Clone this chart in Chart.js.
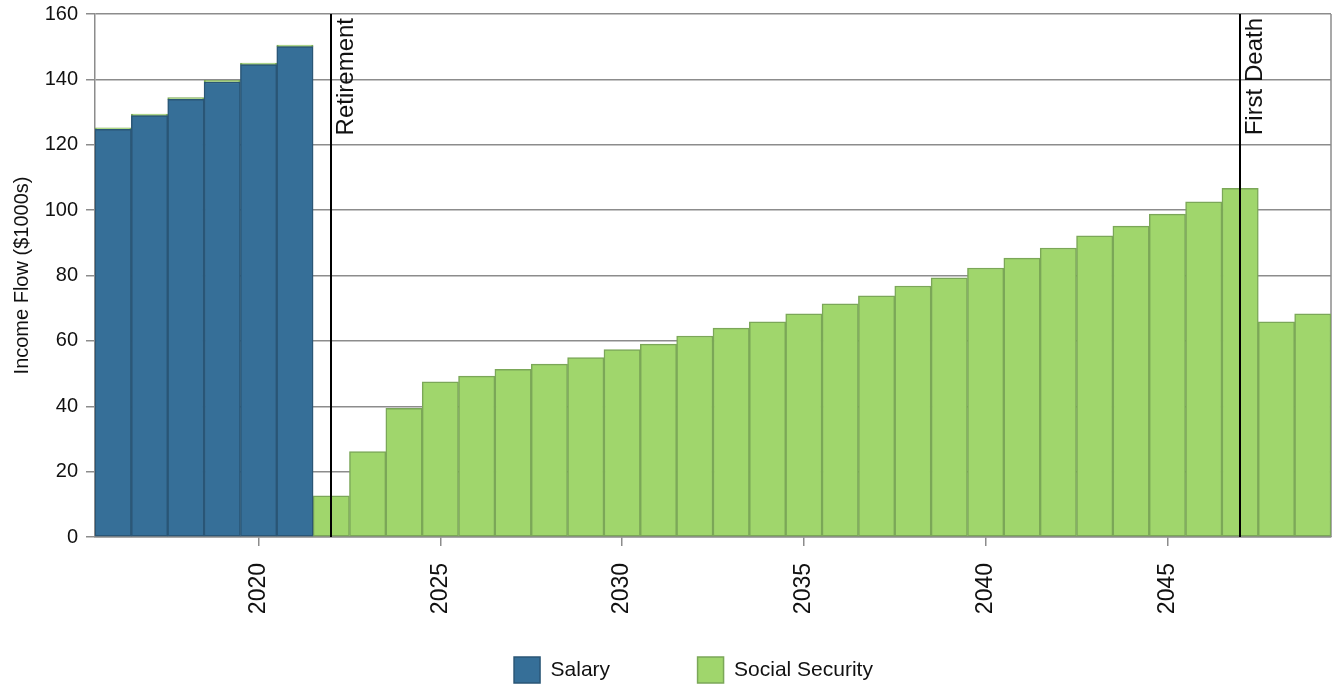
<!DOCTYPE html>
<html lang="en">
<head>
  <meta charset="UTF-8" />
  <title>Income Flow</title>
  <meta name="viewport" content="width=device-width, initial-scale=1" />

  <!-- Chart.js -->
  <script src="https://cdn.jsdelivr.net/npm/chart.js"></script>

  <style>
    html, body { margin: 0; padding: 0; background: #fff; }
    #wrap { width: 1333px; height: 685px; }
  </style>
</head>
<body>
  <div id="wrap"><canvas id="incomeChart"></canvas></div>

  <script>
    // yearly income, in $1000s
    const years = [
      2016, 2017, 2018, 2019, 2020, 2021, 2022, 2023, 2024, 2025, 2026, 2027,
      2028, 2029, 2030, 2031, 2032, 2033, 2034, 2035, 2036, 2037, 2038, 2039,
      2040, 2041, 2042, 2043, 2044, 2045, 2046, 2047, 2048, 2049
    ];
    const salary = [
      124.7, 128.9, 133.9, 139.2, 144.5, 150.0, null, null, null, null, null, null,
      null, null, null, null, null, null, null, null, null, null, null, null,
      null, null, null, null, null, null, null, null, null, null
    ];
    const socialSecurity = [
      0.5, 0.5, 0.5, 0.5, 0.5, 0.5, 12.6, 26.1, 39.4, 47.5, 49.2, 51.3,
      52.9, 54.9, 57.3, 59.0, 61.5, 63.9, 65.8, 68.3, 71.3, 73.8, 76.8, 79.3,
      82.3, 85.3, 88.4, 92.1, 95.1, 98.8, 102.5, 106.7, 65.8, 68.3
    ];

    // life events marked with a vertical line
    const eventYears = [2022, 2047];
    const eventLabels = ['Retirement', 'First Death'];

    const FONT = "'Liberation Sans', Arial, Helvetica, sans-serif";
    const GRID = '#8c8c8c';

    Chart.defaults.font.family = FONT;
    Chart.defaults.color = '#111';

    // right edge of the plot frame
    const frame = {
      id: 'frame',
      beforeDatasetsDraw(chart) {
        const { ctx, chartArea } = chart;
        ctx.save();
        ctx.strokeStyle = GRID;
        ctx.lineWidth = 1.5;
        ctx.beginPath();
        ctx.moveTo(chartArea.right, chartArea.top);
        ctx.lineTo(chartArea.right, chartArea.bottom);
        ctx.stroke();
        ctx.restore();
      }
    };

    // vertical event lines with rotated captions
    const eventLines = {
      id: 'eventLines',
      afterDatasetsDraw(chart) {
        const { ctx, chartArea, scales } = chart;
        ctx.save();
        ctx.strokeStyle = '#000';
        ctx.lineWidth = 2;
        ctx.fillStyle = '#111';
        ctx.font = '24px ' + FONT;
        eventYears.forEach((yr, i) => {
          const px = Math.round(scales.x.getPixelForValue(years.indexOf(yr)));
          ctx.beginPath();
          ctx.moveTo(px, chartArea.top);
          ctx.lineTo(px, chartArea.bottom);
          ctx.stroke();

          ctx.save();
          ctx.translate(px + 22, chartArea.top + 4);
          ctx.rotate(-Math.PI / 2);
          ctx.textAlign = 'right';
          ctx.textBaseline = 'alphabetic';
          ctx.fillText(eventLabels[i], 0, 0);
          ctx.restore();
        });
        ctx.restore();
      }
    };

    // the legend keeps wide gaps between items, so its box is moved
    // up and right after layout instead of growing the layout
    const legendShift = {
      id: 'legendShift',
      afterLayout(chart) {
        const lg = chart.legend;
        if (!lg) return;
        lg.left += 28;
        lg.right += 28;
        lg.top = 569.5;
        lg.bottom = chart.height;
        lg.height = lg.bottom - lg.top;
      }
    };

    const ctx = document.getElementById('incomeChart').getContext('2d');
    new Chart(ctx, {
      type: 'bar',
      data: {
        labels: years.map(String),
        datasets: [
          {
            label: 'Salary',
            data: salary,
            backgroundColor: '#366f98',
            borderColor: '#2a5676',
            borderWidth: 1.5,
            borderSkipped: false
          },
          {
            label: 'Social Security',
            data: socialSecurity,
            backgroundColor: '#a0d66c',
            borderColor: '#7ba758',
            borderWidth: 1.5,
            borderSkipped: false
          }
        ]
      },
      options: {
        responsive: true,
        maintainAspectRatio: false,
        animation: false,
        datasets: {
          bar: { categoryPercentage: 1, barPercentage: 1 }
        },
        layout: { padding: { top: 14, right: 2, left: 0, bottom: 0 } },
        plugins: {
          tooltip: { enabled: false },
          legend: {
            position: 'bottom',
            maxHeight: 60,
            labels: {
              boxWidth: 26,
              boxHeight: 26,
              padding: 87.5,
              color: '#111',
              font: { size: 21, family: FONT }
            }
          }
        },
        scales: {
          x: {
            stacked: true,
            afterFit(scale) {
              scale.height = 88;
              scale.paddingLeft = 0;
              scale.paddingRight = 0;
            },
            grid: {
              offset: false,
              drawOnChartArea: false,
              tickLength: 9,
              lineWidth: 1.5,
              color: c => (years[c.index] % 5 === 0 ? GRID : 'rgba(0,0,0,0)')
            },
            border: { color: GRID, width: 1.5 },
            ticks: {
              autoSkip: false,
              minRotation: 90,
              maxRotation: 90,
              padding: 17,
              color: '#111',
              font: { size: 23, family: FONT },
              callback: (val, i) => (years[i] % 5 === 0 ? String(years[i]) : '')
            }
          },
          y: {
            stacked: true,
            min: 0,
            max: 160,
            afterFit(scale) {
              scale.width = 95;
              scale.paddingTop = 0;
              scale.paddingBottom = 0;
            },
            grid: { color: GRID, lineWidth: 1.5, tickLength: 9 },
            border: { color: GRID, width: 1.5 },
            ticks: {
              stepSize: 20,
              padding: 8,
              color: '#111',
              font: { size: 20, family: FONT }
            },
            title: {
              display: true,
              text: 'Income Flow ($1000s)',
              color: '#111',
              font: { size: 20, family: FONT },
              padding: { top: 10, bottom: 0 }
            }
          }
        }
      },
      plugins: [frame, eventLines, legendShift]
    });
  </script>
</body>
</html>
